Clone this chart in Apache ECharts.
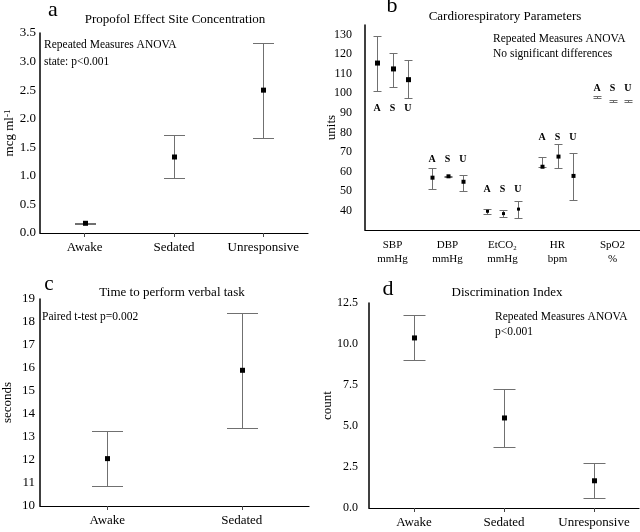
<!DOCTYPE html>
<html><head><meta charset="utf-8">
<script src="https://cdn.jsdelivr.net/npm/echarts@6/dist/echarts.min.js"></script>
<style>html,body{margin:0;padding:0;background:#fff}#c{width:640px;height:532px}</style>
</head><body><div id="c"></div>
<script>
// ---------- Panel a: Propofol Effect Site Concentration ----------
const aCategories = ['Awake', 'Sedated', 'Unresponsive'];
const aMean = [0.17, 1.33, 2.50];
const aLow  = [0.16, 0.96, 1.66];
const aHigh = [0.18, 1.71, 3.33];
const aTicks = { min: 0, max: 3.5, interval: 0.5 };

// ---------- Panel b: Cardiorespiratory Parameters ----------
const bCategories = ['SBP\nmmHg', 'DBP\nmmHg', 'EtCO\u2082\nmmHg', 'HR\nbpm', 'SpO2\n%'];
const bStates = ['A', 'S', 'U'];
const bMean = [[115.5, 112.5, 107.0], [56.8, 57.5, 54.7], [39.6, 38.4, 40.7], [62.4, 67.6, 57.7], [98.2, 95.9, 96.2]];
const bLow  = [[101.4, 103.5, 97.7], [51.2, 57.3, 50.0], [38.0, 36.9, 36.4], [62.4, 61.6, 45.6], [97.7, 95.4, 95.7]];
const bHigh = [[129.5, 120.5, 117.0], [62.0, 57.7, 58.3], [41.0, 40.2, 45.0], [67.5, 74.0, 69.5], [98.7, 96.4, 96.7]];
const bLabelY = [92.4, 66.0, 50.9, 77.2, 102.3];
const bTicks = { min: 30, max: 135, interval: 10 };

// ---------- Panel c: Time to perform verbal task ----------
const cCategories = ['Awake', 'Sedated'];
const cMean = [12.06, 15.9];
const cLow  = [10.85, 13.38];
const cHigh = [13.27, 18.4];
const cTicks = { min: 10, max: 19, interval: 1 };

// ---------- Panel d: Discrimination Index ----------
const dCategories = ['Awake', 'Sedated', 'Unresponsive'];
const dMean = [10.37, 5.49, 1.66];
const dLow  = [9.04, 3.72, 0.61];
const dHigh = [11.74, 7.27, 2.74];
const dTicks = { min: 0, max: 12.5, interval: 2.5 };

const serif = "'Liberation Serif','Times New Roman',serif";

function simpleData(mean, low, high) {
  return mean.map((m, i) => [i, 1, low[i], high[i], m]);
}
const bData = [];
bMean.forEach((g, gi) => g.forEach((m, si) => bData.push([gi, si, bLow[gi][si], bHigh[gi][si], m])));

function errorBar(capW, markSizes, stateOffset) {
  return function (params, api) {
    const cat = api.value(0);
    const st = api.value(1);
    const band = api.size([1, 0])[0];
    const dx = stateOffset ? (st - 1) * band * stateOffset : 0;
    const lo = api.coord([cat, api.value(2)]);
    const hi = api.coord([cat, api.value(3)]);
    const m = api.coord([cat, api.value(4)]);
    const x = Math.round(lo[0] + dx) + 0.5;
    const yl = Math.round(lo[1]) + 0.5, yh = Math.round(hi[1]) + 0.5;
    const ms = Array.isArray(markSizes) ? markSizes[cat] : markSizes;
    const ls = { stroke: '#707070', lineWidth: 1 };
    const children = [
      { type: 'line', shape: { x1: x, y1: yl, x2: x, y2: yh }, style: ls },
      { type: 'line', shape: { x1: x - capW / 2, y1: yl, x2: x + capW / 2, y2: yl }, style: ls },
      { type: 'line', shape: { x1: x - capW / 2, y1: yh, x2: x + capW / 2, y2: yh }, style: ls }
    ];
    if (ms > 0) {
      children.push({ type: 'rect', shape: { x: x - ms / 2, y: m[1] - ms / 2, width: ms, height: ms }, style: { fill: '#000' } });
    }
    return { type: 'group', children };
  };
}

function stateLabels(params, api) {
  const cat = api.value(0);
  const p = api.coord([cat, api.value(1)]);
  const band = api.size([1, 0])[0];
  return {
    type: 'group',
    children: bStates.map((s, i) => ({
      type: 'text',
      x: p[0] + (i - 1) * band * 0.28,
      y: p[1],
      style: { text: s, font: 'bold 10px ' + serif, fill: '#000', align: 'center', verticalAlign: 'middle', textAlign: 'center', textVerticalAlign: 'middle' }
    }))
  };
}

function xAx(gi, cats, opts) {
  return Object.assign({
    gridIndex: gi, type: 'category', data: cats,
    axisLine: { show: true, lineStyle: { color: '#000', width: 1.2 } },
    axisTick: { show: true, alignWithLabel: true, length: 4, lineStyle: { color: '#444' } },
    axisLabel: { color: '#000', fontFamily: serif, fontSize: 13, margin: 8, interval: 0 },
    splitLine: { show: false }
  }, opts || {});
}
function yAx(gi, t, name, gap, fmt, opts) {
  return Object.assign({
    gridIndex: gi, type: 'value', min: t.min, max: t.max, interval: t.interval,
    name: name, nameLocation: 'middle', nameGap: gap, nameMoveOverlap: false,
    nameTextStyle: { color: '#000', fontFamily: serif, fontSize: 13 },
    axisLine: { show: true, lineStyle: { color: '#000', width: 1.5 } },
    axisTick: { show: false },
    splitLine: { show: false },
    axisLabel: { color: '#000', fontFamily: serif, fontSize: 13, margin: 4, formatter: fmt }
  }, opts || {});
}

function txt(x, y, s, size, align, extra) {
  return {
    type: 'text', x: x, y: y,
    style: Object.assign({ text: s, font: (extra || '') + size + 'px ' + serif, fill: '#000',
      align: align, verticalAlign: 'middle', textAlign: align, textVerticalAlign: 'middle' })
  };
}

const chart = echarts.init(document.getElementById('c'), null, { renderer: 'canvas' });
chart.setOption({
  backgroundColor: '#fff',
  animation: false,
  grid: [
    { left: 40, top: 33, width: 268, height: 200 },
    { left: 365, top: 25, width: 275, height: 205 },
    { left: 35, top: 299, width: 274, height: 207 },
    { left: 369, top: 303, width: 270, height: 205 }
  ],
  xAxis: [
    xAx(0, aCategories),
    xAx(1, bCategories, { axisTick: { show: false }, axisLabel: { color: '#000', fontFamily: serif, fontSize: 11, lineHeight: 14, margin: 8, interval: 0 } }),
    xAx(2, cCategories),
    xAx(3, dCategories)
  ],
  yAxis: [
    yAx(0, aTicks, '{n|mcg ml}{s|-1}', 24, v => v.toFixed(1), {
      nameTextStyle: { color: '#000', fontFamily: serif, fontSize: 13,
        rich: { n: { fontFamily: serif, fontSize: 13, color: '#000' }, s: { fontFamily: serif, fontSize: 9, color: '#000', verticalAlign: 'top', lineHeight: 13 } } }
    }),
    yAx(1, bTicks, 'units', 27, v => String(v), {
      axisLabel: { color: '#000', fontFamily: serif, fontSize: 12, margin: 13, showMinLabel: false, showMaxLabel: false }
    }),
    yAx(2, cTicks, 'seconds', 26, v => String(v), {
      axisLabel: { color: '#000', fontFamily: serif, fontSize: 13, margin: 5 }
    }),
    yAx(3, dTicks, 'count', 35, v => v.toFixed(1), {
      axisLabel: { color: '#000', fontFamily: serif, fontSize: 12, margin: 11, formatter: v => v.toFixed(1) }
    })
  ],
  series: [
    { type: 'custom', xAxisIndex: 0, yAxisIndex: 0, renderItem: errorBar(21, 5, 0), data: simpleData(aMean, aLow, aHigh), encode: { x: 0, y: [2, 3, 4] } },
    { type: 'custom', xAxisIndex: 1, yAxisIndex: 1, renderItem: errorBar(8, [5, 4, 3, 4, 0], 0.28), data: bData, encode: { x: 0, y: [2, 3, 4] } },
    { type: 'custom', xAxisIndex: 1, yAxisIndex: 1, renderItem: stateLabels, data: bLabelY.map((v, i) => [i, v]), encode: { x: 0, y: 1 } },
    { type: 'custom', xAxisIndex: 2, yAxisIndex: 2, renderItem: errorBar(31, 5, 0), data: simpleData(cMean, cLow, cHigh), encode: { x: 0, y: [2, 3, 4] } },
    { type: 'custom', xAxisIndex: 3, yAxisIndex: 3, renderItem: errorBar(22, 5, 0), data: simpleData(dMean, dLow, dHigh), encode: { x: 0, y: [2, 3, 4] } }
  ],
  graphic: [
    txt(53, 10, 'a', 22, 'center'),
    txt(392, 6, 'b', 22, 'center'),
    txt(49, 284, 'c', 21, 'center'),
    txt(388, 289, 'd', 22, 'center'),
    txt(175, 20, 'Propofol Effect Site Concentration', 13, 'center'),
    txt(505, 17, 'Cardiorespiratory Parameters', 13, 'center'),
    txt(172, 293, 'Time to perform verbal task', 13, 'center'),
    txt(507, 293, 'Discrimination Index', 13, 'center'),
    txt(44, 45, 'Repeated Measures ANOVA', 11.5, 'left'),
    txt(44, 62, 'state: p<0.001', 11.5, 'left'),
    txt(493, 39, 'Repeated Measures ANOVA', 11.5, 'left'),
    txt(493, 54, 'No significant differences', 11.5, 'left'),
    txt(42, 317, 'Paired t-test p=0.002', 11.5, 'left'),
    txt(495, 317, 'Repeated Measures ANOVA', 11.5, 'left'),
    txt(495, 332, 'p<0.001', 11.5, 'left')
  ]
});
</script>
</body></html>
